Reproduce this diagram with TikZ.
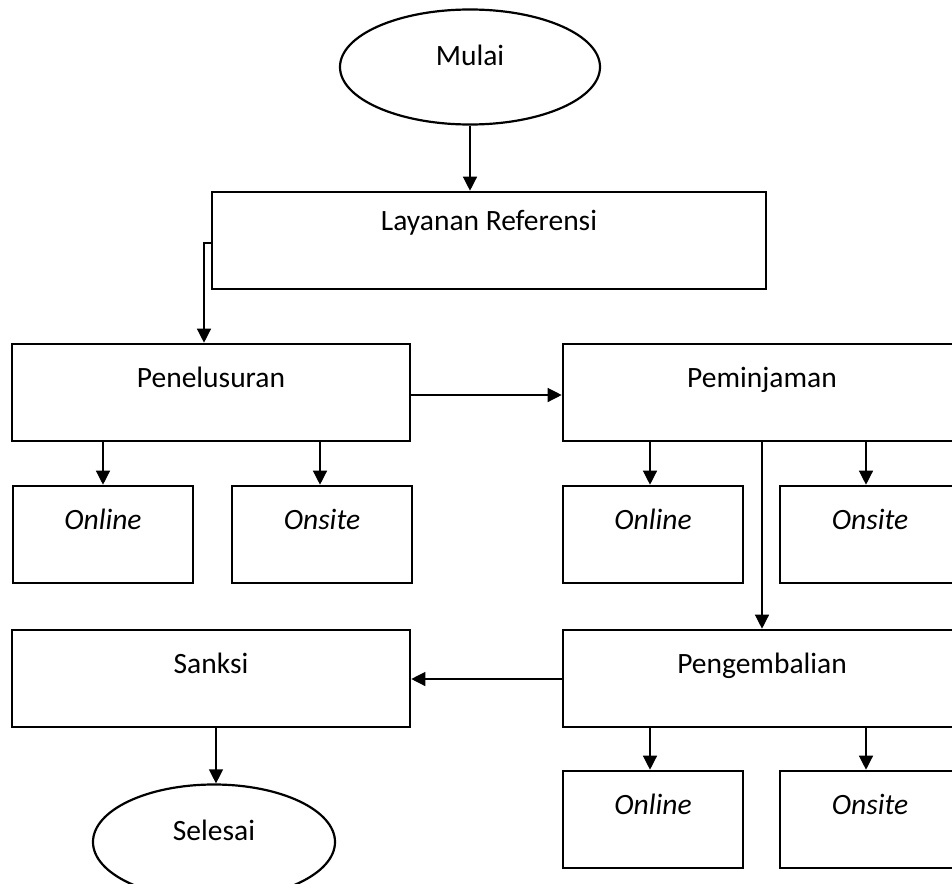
\documentclass[tikz,border=0pt]{standalone}
\usepackage{fontspec}
\setmainfont{Carlito}
\usetikzlibrary{arrows.meta,shapes.geometric}

\tikzset{
  txt/.style={font=\fontsize{29.5bp}{34bp}\selectfont},
  % rectangle with its caption set near the top edge
  box/.style 2 args={draw, line width=2.6bp, rectangle, inner sep=0pt,
    minimum height=97bp,
    label={[anchor=base, yshift=-#1, txt]north:#2}},
  wide/.style={minimum width=398bp},
  small/.style={minimum width=180bp},
  terminal/.style={draw, line width=2.2bp, ellipse, inner sep=0pt,
    label={[anchor=base, yshift=-57bp, txt]north:#1}},
  arr/.style={line width=1.3bp, -{Triangle[length=14bp,width=14bp]}},
}

\begin{document}
\begin{tikzpicture}[x=1bp, y=-1bp]
  \useasboundingbox (0,0) rectangle (952,884);
  \fill[white] (0,0) rectangle (952,884);
  \clip (0,0) rectangle (952,884);

  % start / end
  \node[terminal=Mulai, minimum width=260bp, minimum height=115bp] (mulai) at (470,67) {};
  \node[terminal=Selesai, minimum width=242bp, minimum height=115bp] (selesai) at (214,842) {};

  % main steps
  \node[box={40bp}{Layanan Referensi}, minimum width=554bp] (lay) at (489,240.5) {};
  \node[box={45bp}{Penelusuran}, wide] (pen) at (211,392.5) {};
  \node[box={45bp}{Peminjaman}, wide] (pem) at (762,392.5) {};
  \node[box={45bp}{Sanksi}, wide] (san) at (211,678.5) {};
  \node[box={45bp}{Pengembalian}, wide] (peng) at (762,678.5) {};

  % channels
  \node[box={45bp}{\itshape Online}, small] (on1) at (103,534.5) {};
  \node[box={45bp}{\itshape Onsite}, small] (os1) at (322,534.5) {};
  \node[box={45bp}{\itshape Online}, small] (on2) at (653,534.5) {};
  \node[box={45bp}{\itshape Onsite}, small] (os2) at (870,534.5) {};
  \node[box={45bp}{\itshape Online}, small] (on3) at (653,819.5) {};
  \node[box={45bp}{\itshape Onsite}, small] (os3) at (870,819.5) {};

  % connectors
  \draw[arr] (mulai.south) -- (mulai.south |- lay.north);
  \draw[arr] ([yshift=-2.5bp]lay.west) -| (pen.north -| 204,0);
  \draw[arr] ([yshift=-2.5bp]pen.east) -- ([yshift=-2.5bp]pem.west);
  \draw[arr] (on1.north |- pen.south) -- (on1.north);
  \draw[arr] ([xshift=-2bp]os1.north |- pen.south) -- ([xshift=-2bp]os1.north);
  \draw[arr] ([xshift=-3bp]on2.north |- pem.south) -- ([xshift=-3bp]on2.north);
  \draw[arr] ([xshift=-4bp]os2.north |- pem.south) -- ([xshift=-4bp]os2.north);
  \draw[arr] (pem.south) -- (peng.north);
  \draw[arr] ([yshift=-0.5bp]peng.west) -- ([yshift=-0.5bp]san.east);
  \draw[arr] ([xshift=-3bp]on3.north |- peng.south) -- ([xshift=-3bp]on3.north);
  \draw[arr] ([xshift=-4bp]os3.north |- peng.south) -- ([xshift=-4bp]os3.north);
  \draw[arr] ([xshift=2bp]selesai.north |- san.south) -- ([xshift=2bp]selesai.north);
\end{tikzpicture}
\end{document}
